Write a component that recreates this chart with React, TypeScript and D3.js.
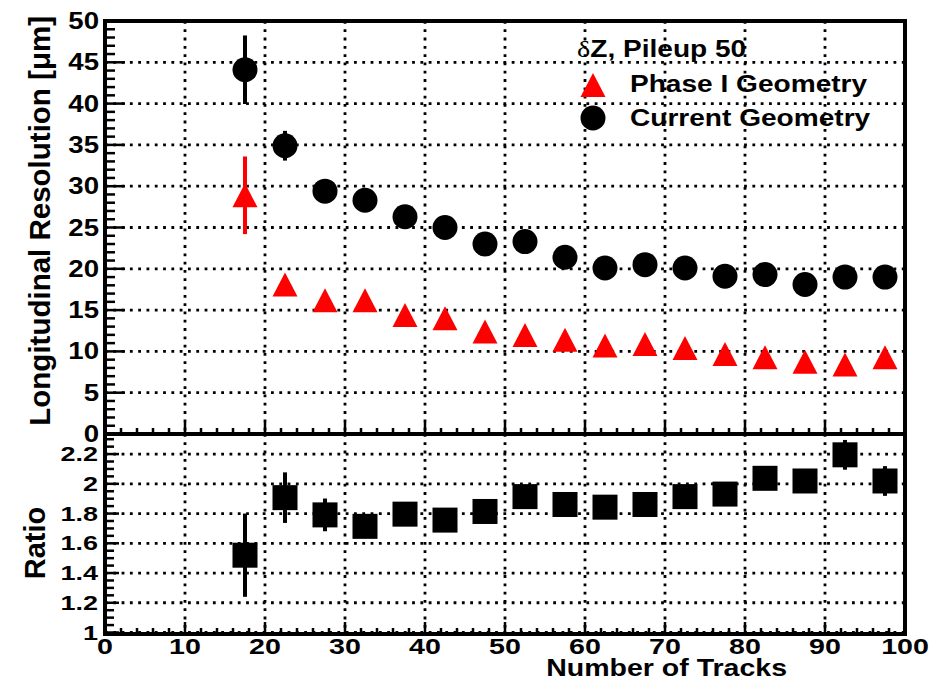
import React from "react";
import * as d3 from "d3";

const nTracks = [17.5, 22.5, 27.5, 32.5, 37.5, 42.5, 47.5, 52.5, 57.5, 62.5, 67.5, 72.5, 77.5, 82.5, 87.5, 92.5, 97.5];
const currentRes = [44.1, 34.9, 29.4, 28.3, 26.3, 25.0, 23.0, 23.3, 21.4, 20.1, 20.5, 20.1, 19.1, 19.3, 18.1, 19.0, 19.0];
const currentErr = [4.15, 1.8, 1.0, 0.9, 0.9, 0.8, 0.8, 0.8, 0.7, 0.7, 0.7, 0.7, 0.7, 0.7, 0.7, 0.7, 0.7];
const phaseRes = [28.9, 18.1, 16.2, 16.2, 14.4, 14.0, 12.4, 12.0, 11.4, 10.7, 10.9, 10.4, 9.7, 9.3, 8.75, 8.4, 9.3];
const phaseErr = [4.7, 0.8, 0.6, 0.6, 0.6, 0.5, 0.5, 0.5, 0.5, 0.5, 0.5, 0.5, 0.4, 0.4, 0.4, 0.4, 0.4];
const ratioVals = [1.52, 1.907, 1.791, 1.714, 1.796, 1.756, 1.814, 1.914, 1.861, 1.843, 1.861, 1.914, 1.931, 2.037, 2.019, 2.195, 2.019];
const ratioErr = [0.28, 0.17, 0.11, 0.06, 0.06, 0.06, 0.06, 0.06, 0.06, 0.06, 0.06, 0.06, 0.06, 0.06, 0.06, 0.1, 0.1];

const xTickLabels = ["0", "10", "20", "30", "40", "50", "60", "70", "80", "90", "100"];
const yTopTickLabels = ["0", "5", "10", "15", "20", "25", "30", "35", "40", "45", "50"];
const ratioTickLabels = ["1", "1.2", "1.4", "1.6", "1.8", "2", "2.2"];

const seriesNames = ["Phase I Geometry", "Current Geometry"];
const legendTitle = "Z, Pileup 50";
const xTitle = "Number of Tracks";
const yTopTitle = "Longitudinal Resolution [\u03bcm]";
const yBotTitle = "Ratio";

const FONT = "'Liberation Sans', Arial, Helvetica, sans-serif";

const W = 934, H = 681;
const L = 105, R = 905, T = 21, MID = 434, B = 634;

const x = d3.scaleLinear().domain([0, 100]).range([L, R]);
const yTop = d3.scaleLinear().domain([0, 50]).range([MID, T]);
const yBot = d3.scaleLinear().domain([0.99, 2.335]).range([B, MID]);

function SText({ x, y, sx = 1.3, size = 21, anchor = "start", children }: any) {
  return (
    <text
      transform={`translate(${x},${y}) scale(${sx},1)`}
      fontFamily={FONT}
      fontWeight="bold"
      fontSize={size}
      textAnchor={anchor}
      fill="#000"
    >
      {children}
    </text>
  );
}

export default function App() {
  const dots = "2.8 5.5";
  const xGrid = d3.range(10, 100, 10);
  const yTopGrid = d3.range(5, 50, 5);
  const yBotGrid = d3.range(1.0, 2.21, 0.2);
  const xMinor = d3.range(0, 100.01, 2);
  const yTopMinor = d3.range(0, 50.01, 1);
  const yBotMinor = d3.range(1.0, 2.331, 0.05);

  const tri = (cx: number, cy: number) => {
    const w = 12.5, h = 12;
    return `M${cx - w},${cy + h}L${cx + w},${cy + h}L${cx},${cy - h}Z`;
  };

  return (
    <svg width={W} height={H} style={{ position: "absolute", left: 0, top: 0, background: "#fff" }}>
      <rect x={0} y={0} width={W} height={H} fill="#fff" />
      {/* grids */}
      <g stroke="#000" strokeWidth={2.8} strokeDasharray={dots} fill="none">
        {xGrid.map((v) => (
          <line key={"gx" + v} x1={x(v)} x2={x(v)} y1={T} y2={MID} />
        ))}
        {xGrid.map((v) => (
          <line key={"gxb" + v} x1={x(v)} x2={x(v)} y1={MID} y2={B} />
        ))}
        {yTopGrid.map((v) => (
          <line key={"gy" + v} x1={L} x2={R} y1={yTop(v)} y2={yTop(v)} />
        ))}
        {yBotGrid.map((v) => (
          <line key={"gyb" + v} x1={L} x2={R} y1={yBot(v)} y2={yBot(v)} />
        ))}
      </g>

      {/* ticks */}
      <g stroke="#000" strokeWidth={2.5}>
        {yTopMinor.map((v, i) => (
          <line key={"ty" + i} x1={L} x2={L + (Math.round(v) % 5 === 0 ? 20 : 10)} y1={yTop(v)} y2={yTop(v)} />
        ))}
        {yBotMinor.map((v, i) => (
          <line key={"tyb" + i} x1={L} x2={L + (i % 4 === 0 ? 14 : 9)} y1={yBot(v)} y2={yBot(v)} />
        ))}
        {xMinor.map((v, i) => (
          <line key={"tx" + i} x1={x(v)} x2={x(v)} y1={MID} y2={MID - (Math.round(v) % 10 === 0 ? 12 : 6)} />
        ))}
        {xMinor.map((v, i) => (
          <line key={"txb" + i} x1={x(v)} x2={x(v)} y1={B} y2={B - (Math.round(v) % 10 === 0 ? 12 : 6)} />
        ))}
      </g>

      {/* frames */}
      <g stroke="#000" strokeWidth={4} fill="none">
        <rect x={L} y={T} width={R - L} height={MID - T} />
        <rect x={L} y={MID} width={R - L} height={B - MID} />
      </g>

      {/* error bars */}
      <g strokeWidth={4}>
        {nTracks.map((n, i) => (
          <line key={"ec" + i} stroke="#000" x1={x(n)} x2={x(n)}
            y1={yTop(currentRes[i] - currentErr[i])} y2={yTop(currentRes[i] + currentErr[i])} />
        ))}
        {nTracks.map((n, i) => (
          <line key={"ep" + i} stroke="#ff0000" x1={x(n)} x2={x(n)}
            y1={yTop(phaseRes[i] - phaseErr[i])} y2={yTop(phaseRes[i] + phaseErr[i])} />
        ))}
        {nTracks.map((n, i) => (
          <line key={"er" + i} stroke="#000" x1={x(n)} x2={x(n)}
            y1={yBot(ratioVals[i] - ratioErr[i])} y2={yBot(ratioVals[i] + ratioErr[i])} />
        ))}
      </g>

      {/* markers */}
      {nTracks.map((n, i) => (
        <circle key={"mc" + i} cx={x(n)} cy={yTop(currentRes[i])} r={12.5} fill="#000" />
      ))}
      {nTracks.map((n, i) => (
        <path key={"mp" + i} d={tri(x(n), yTop(phaseRes[i]))} fill="#ff0000" />
      ))}
      {nTracks.map((n, i) => (
        <rect key={"mr" + i} x={x(n) - 12.5} y={yBot(ratioVals[i]) - 12.5} width={25} height={25} fill="#000" />
      ))}

      {/* tick labels */}
      {yTopTickLabels.map((t) => (
        <SText key={"lt" + t} x={99} y={yTop(+t) + 8} anchor="end" size={23} sx={1.2}>{t}</SText>
      ))}
      {ratioTickLabels.map((t) => (
        <SText key={"lr" + t} x={98} y={yBot(+t) + 7} anchor="end" size={20} sx={1.35}>{t}</SText>
      ))}
      {xTickLabels.map((t) => (
        <SText key={"lx" + t} x={x(+t)} y={654} anchor="middle" size={22} sx={1.3}>{t}</SText>
      ))}

      {/* axis titles */}
      <SText x={787} y={676} anchor="end" size={23} sx={1.24}>{xTitle}</SText>
      <text transform={`translate(50,16) rotate(-90)`} fontFamily={FONT} fontWeight="bold" fontSize={29.5} textAnchor="end">
        {yTopTitle}
      </text>
      <text transform={`translate(45,543) rotate(-90)`} fontFamily={FONT} fontWeight="bold" fontSize={29} textAnchor="middle">
        {yBotTitle}
      </text>

      {/* legend */}
      <g transform="translate(577,57) scale(1.17,1)">
        <text fontFamily={FONT} fontSize={24} fill="#000">
          <tspan fontFamily="'Liberation Serif', 'DejaVu Serif', serif" fontWeight="normal">{"\u03b4"}</tspan>
          <tspan fontWeight="bold">{legendTitle}</tspan>
        </text>
      </g>
      <path d={tri(593, 85)} fill="#ff0000" />
      <circle cx={593} cy={118} r={12.5} fill="#000" />
      <SText x={630} y={92} size={24} sx={1.17}>{seriesNames[0]}</SText>
      <SText x={630} y={126} size={24} sx={1.17}>{seriesNames[1]}</SText>
    </svg>
  );
}
